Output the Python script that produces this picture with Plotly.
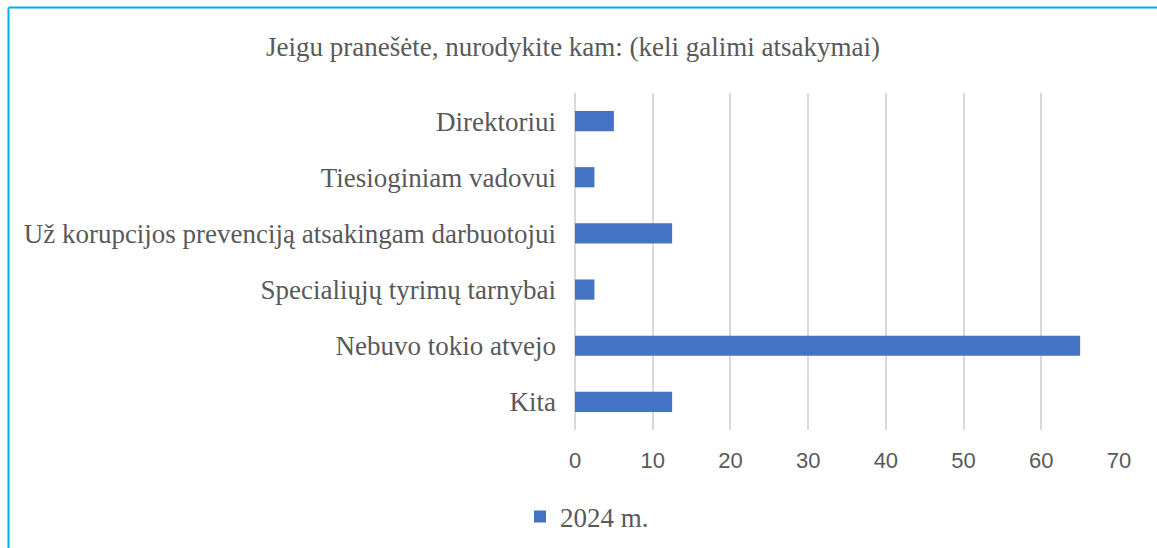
import plotly.graph_objects as go

categories = [
    "Direktoriui",
    "Tiesioginiam vadovui",
    "Už korupcijos prevenciją atsakingam darbuotojui",
    "Specialiųjų tyrimų tarnybai",
    "Nebuvo tokio atvejo",
    "Kita",
]
values_2024 = [5, 2.5, 12.5, 2.5, 65, 12.5]
series_name = "2024 m."
title_text = "Jeigu pranešėte, nurodykite kam: (keli galimi atsakymai)"
x_ticks = [0, 10, 20, 30, 40, 50, 60, 70]

W, H = 1157, 548
L, R, T, B = 575, 38, 93, 118
pw, ph = W - L - R, H - T - B

def px_to_paper_x(px):
    return (px - L) / pw

def px_to_paper_y(py):
    return (H - B - py) / ph

serif = "Liberation Serif"
sans = "Liberation Sans"
grey = "#595959"

fig = go.Figure()
fig.add_trace(go.Bar(
    y=categories,
    x=values_2024,
    orientation="h",
    name=series_name,
    marker=dict(color="#4472C4", line=dict(width=0)),
    showlegend=True,
))

fig.update_layout(
    width=W, height=H,
    margin=dict(l=L, r=R, t=T, b=B, autoexpand=False),
    paper_bgcolor="white",
    plot_bgcolor="white",
    bargap=0.64,
    title=dict(
        text=title_text,
        x=573 / W, xref="container", xanchor="center",
        y=1 - 47 / H, yref="container", yanchor="middle",
        font=dict(family=serif, size=27, color=grey),
    ),
    xaxis=dict(
        range=[0, 70],
        tickvals=x_ticks,
        showgrid=True,
        gridcolor="#D9D9D9",
        gridwidth=1.5,
        zeroline=True,
        zerolinecolor="#D9D9D9",
        zerolinewidth=1.5,
        showline=False,
        ticks="",
        ticklabelstandoff=15,
        tickfont=dict(family=sans, size=22, color=grey),
        fixedrange=True,
    ),
    yaxis=dict(
        categoryorder="array",
        categoryarray=categories[::-1],
        showgrid=False,
        zeroline=False,
        showline=False,
        ticks="",
        ticklabelstandoff=18,
        tickfont=dict(family=serif, size=27, color=grey),
        fixedrange=True,
    ),
    legend=dict(
        orientation="h",
        x=px_to_paper_x(520), xanchor="left",
        y=px_to_paper_y(517), yanchor="middle",
        font=dict(family=serif, size=27, color=grey),
        itemwidth=30,
        bgcolor="rgba(0,0,0,0)",
    ),
    shapes=[
        dict(type="line", xref="paper", yref="paper",
             x0=px_to_paper_x(8.5), x1=px_to_paper_x(1200),
             y0=px_to_paper_y(7.5), y1=px_to_paper_y(7.5),
             line=dict(color="#00B0F0", width=2)),
        dict(type="line", xref="paper", yref="paper",
             x0=px_to_paper_x(8.5), x1=px_to_paper_x(8.5),
             y0=px_to_paper_y(7.5), y1=px_to_paper_y(600),
             line=dict(color="#00B0F0", width=2)),
    ],
)

fig.write_html(
    "out.html",
    config={"displayModeBar": False},
    post_script="document.body.style.margin='0px';document.body.style.overflow='hidden';",
)
